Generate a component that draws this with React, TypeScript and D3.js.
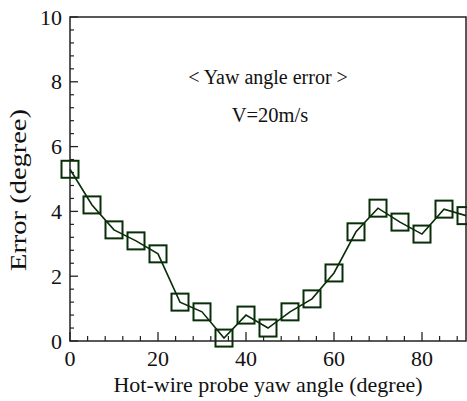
import React from "react";
import * as d3 from "d3";

const angles = [0, 5, 10, 15, 20, 25, 30, 35, 40, 45, 50, 55, 60, 65, 70, 75, 80, 85, 90];
const errors = [5.3, 4.2, 3.43, 3.09, 2.69, 1.2, 0.9, 0.09, 0.8, 0.4, 0.9, 1.3, 2.1, 3.37, 4.1, 3.67, 3.3, 4.07, 3.87];
const xTicks = [0, 20, 40, 60, 80];
const yTicks = [0, 2, 4, 6, 8, 10];
const xTitle = "Hot-wire probe yaw angle (degree)";
const yTitle = "Error (degree)";
const note1 = "< Yaw angle error >";
const note2 = "V=20m/s";

const W = 467, H = 401;
const L = 70, R = 466, T = 17, B = 341;
const FONT = '"Liberation Serif"';
const GREEN = "#082e08";

export default function App() {
  const x = d3.scaleLinear().domain([0, 90]).range([L, R]);
  const y = d3.scaleLinear().domain([0, 10]).range([B, T]);
  const xMinor = d3.range(0, 90, 4).filter((v) => v % 20 !== 0);
  const yMinor = d3.range(0, 10.01, 0.4).map((v) => +v.toFixed(1)).filter((v) => Math.abs(v / 2 - Math.round(v / 2)) > 1e-6);
  const line = d3
    .line<number>()
    .x((_, i) => x(angles[i]))
    .y((d) => y(d))
    .curve(d3.curveLinear);
  const ms = 17;
  const tStyle = { fontFamily: FONT };
  return (
    <svg width={W} height={H} style={{ position: "absolute", left: 0, top: 0, background: "#fff" }}>
      <rect x={L} y={T} width={R - L} height={B - T} fill="none" stroke="#222" strokeWidth={1.5} />
      {xTicks.map((t) => (
        <g key={"xt" + t}>
          <line x1={x(t)} x2={x(t)} y1={B} y2={B - 9} stroke="#222" strokeWidth={1.3} />
          <text x={x(t)} y={366} textAnchor="middle" style={tStyle} fontSize={22} fill="#111">
            {t}
          </text>
        </g>
      ))}
      {xMinor.map((t) => (
        <line key={"xm" + t} x1={x(t)} x2={x(t)} y1={B} y2={B - 5} stroke="#222" strokeWidth={1.2} />
      ))}
      {yTicks.map((t) => (
        <g key={"yt" + t}>
          <line x1={L} x2={L + 8} y1={y(t)} y2={y(t)} stroke="#222" strokeWidth={1.3} />
          <text x={62} y={y(t) + 7.5} textAnchor="end" style={tStyle} fontSize={22} fill="#111">
            {t}
          </text>
        </g>
      ))}
      {yMinor.map((t) => (
        <line key={"ym" + t} x1={L} x2={L + 4} y1={y(t)} y2={y(t)} stroke="#222" strokeWidth={1.2} />
      ))}
      <text x={(L + R) / 2} y={392} textAnchor="middle" style={tStyle} fontSize={22} fill="#111">
        {xTitle}
      </text>
      <text
        transform={`translate(26, 190) rotate(-90)`}
        textAnchor="middle"
        style={tStyle}
        fontSize={23}
        textLength={162}
        lengthAdjust="spacingAndGlyphs"
        fill="#111"
      >
        {yTitle}
      </text>
      <text x={268} y={84} textAnchor="middle" style={tStyle} fontSize={20} fill="#111">
        {note1}
      </text>
      <text x={270} y={122} textAnchor="middle" style={tStyle} fontSize={20.5} fill="#111">
        {note2}
      </text>
      <path d={line(errors) || ""} fill="none" stroke={GREEN} strokeWidth={1.6} />
      {errors.map((v, i) => (
        <rect
          key={"m" + i}
          x={x(angles[i]) - ms / 2}
          y={y(v) - ms / 2}
          width={ms}
          height={ms}
          fill="none"
          stroke={GREEN}
          strokeWidth={2}
        />
      ))}
    </svg>
  );
}
